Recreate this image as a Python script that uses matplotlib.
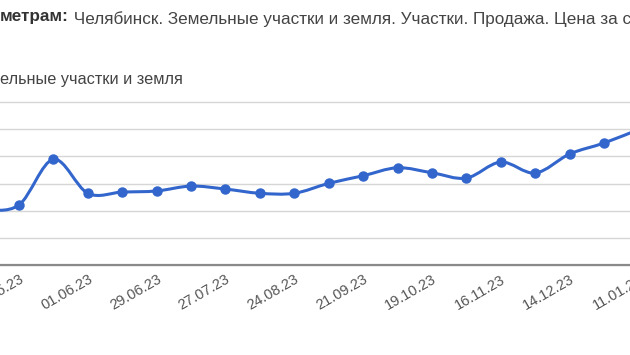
import datetime as dt
import numpy as np
import matplotlib
matplotlib.use('Agg')
import matplotlib.pyplot as plt
import matplotlib.dates as mdates
from matplotlib.path import Path
from matplotlib.patches import PathPatch

#%% data (y units arbitrary, y labels are cropped off)
dates = ['20.04.23', '04.05.23', '18.05.23', '01.06.23', '15.06.23', '29.06.23',
         '13.07.23', '27.07.23', '10.08.23', '24.08.23', '07.09.23', '21.09.23',
         '05.10.23', '19.10.23', '02.11.23', '16.11.23', '30.11.23', '14.12.23',
         '28.12.23', '11.01.24']
prices = [40.5, 44.2, 77.8, 52.8, 53.7, 54.5, 58.1, 55.9, 52.8, 52.8,
          60.1, 65.7, 71.6, 67.9, 64.0, 75.8, 67.7, 81.7, 89.8, 99.7]
tick_dates = ['04.05.23', '01.06.23', '29.06.23', '27.07.23', '24.08.23',
              '21.09.23', '19.10.23', '16.11.23', '14.12.23', '11.01.24']
grid_vals = [0, 20, 40, 60, 80, 100, 120]

title_bold = 'метрам:'
title_rest = ' Челябинск. Земельные участки и земля. Участки. Продажа. Цена за сотку'
legend_txt = 'ельные участки и земля'

blue = '#3366cc'

#%%
to_num = lambda s: mdates.date2num(dt.datetime.strptime(s, '%d.%m.%y'))
x = np.array([to_num(d) for d in dates])
y = np.array(prices)

fig = plt.figure(figsize=(6.3, 3.55), dpi=100)
W, H = 630, 355
# the screenshot is cropped: axes run past both sides of the figure
L, R = -50, 680
ax = fig.add_axes([L / W, 1 - 268 / H, (R - L) / W, (268 - 95) / H])

# smooth line (catmull-rom as cubic bezier, like curveType 'function')
pts = np.column_stack([x, y])
verts, codes = [pts[0]], [Path.MOVETO]
n = len(pts)
for i in range(n - 1):
    p0, p1 = pts[max(i - 1, 0)], pts[i]
    p2, p3 = pts[i + 1], pts[min(i + 2, n - 1)]
    verts += [p1 + (p2 - p0) / 6, p2 - (p3 - p1) / 6, p2]
    codes += [Path.CURVE4] * 3
ax.add_patch(PathPatch(Path(verts, codes), fill=False, edgecolor=blue,
                       lw=2.2, capstyle='round', joinstyle='round', zorder=3))
ax.plot(x, y, 'o', ms=6.5, color=blue, zorder=4)

ax.set_yticks(grid_vals)
ax.grid(True, axis='y', color='#d6d6d6', lw=1.0)
ax.axhline(0, color='#8a8a8a', lw=1.6, zorder=2)
for s in ax.spines.values():
    s.set_visible(False)
ax.tick_params(axis='y', length=0, labelleft=False)

ax.set_xticks([to_num(d) for d in tick_dates])
ax.set_xticklabels(tick_dates)
ax.tick_params(axis='x', length=0, pad=3, labelsize=10.5, labelcolor='#555555')
for lab in ax.get_xticklabels():
    lab.set_rotation(30)
    lab.set_ha('right')
    lab.set_va('top')
    lab.set_rotation_mode('anchor')
    lab.set_family('Liberation Sans')

# pixel layout: 04.05.23 sits at x=19px, 2.458 px per day; 0 -> 265px, 120 -> 102px
# (set limits after the ticks, set_xticks would widen them)
x_ref = to_num('04.05.23')
ax.set_xlim(x_ref - (19 - L) / 2.458, x_ref + (R - 19) / 2.458)
ppu = (265 - 102) / 120
ax.set_ylim(-3 / ppu, 120 + 7 / ppu)

t1 = fig.text(0, 1 - 21 / H, title_bold, fontsize=12.3, fontweight='bold',
              color='#333333', family='Liberation Sans', va='baseline')
plt.annotate(title_rest, xy=(1, 0), xycoords=t1, fontsize=12.3, color='#444444',
             family='Liberation Sans', va='baseline', annotation_clip=False)
fig.text(0, 1 - 84 / H, legend_txt, fontsize=11.7, color='#444444',
         family='Liberation Sans', va='baseline')

fig.savefig('out.png', dpi=100)
